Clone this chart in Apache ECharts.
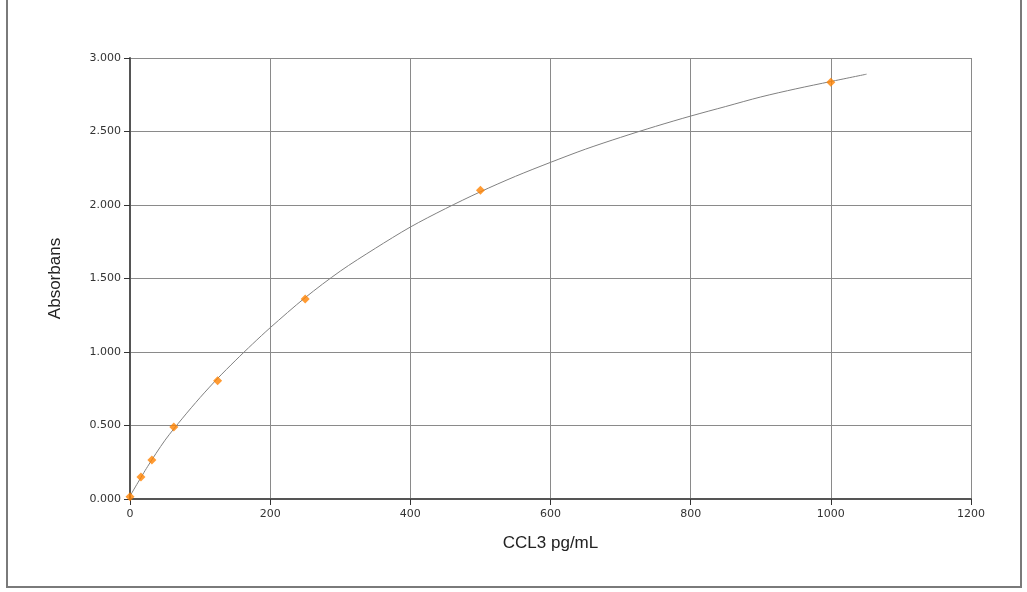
<!DOCTYPE html>
<html>
<head>
<meta charset="utf-8">
<title>CCL3 standard curve</title>
<script src="https://cdn.jsdelivr.net/npm/echarts@6/dist/echarts.min.js"></script>
<style>
  html, body { margin: 0; padding: 0; background: #fff; }
  #chart { width: 1027px; height: 592px; }
</style>
</head>
<body>
<div id="chart"></div>
<script>
// standards (pg/mL) and measured absorbance
const standardConc = [0, 15.6, 31.25, 62.5, 125, 250, 500, 1000]
const standardAbs = [0.016, 0.15, 0.265, 0.49, 0.805, 1.36, 2.10, 2.835]

// fitted curve at regular steps
const curveConc = [0, 25, 50, 75, 100, 125, 150, 175, 200, 250, 300, 350, 400, 450, 500,
  550, 600, 650, 700, 750, 800, 850, 900, 950, 1000, 1051]
const curveAbs = [0.02, 0.22, 0.40, 0.55, 0.69, 0.82, 0.94, 1.055, 1.165, 1.37, 1.55, 1.705, 1.85, 1.975, 2.09,
  2.195, 2.29, 2.38, 2.46, 2.535, 2.605, 2.67, 2.735, 2.79, 2.84, 2.89]

const xTicks = [0, 200, 400, 600, 800, 1000, 1200]
const yTicks = [0, 0.5, 1, 1.5, 2, 2.5, 3]

const chart = echarts.init(document.getElementById('chart'))

const tickFont = { color: '#333', fontSize: 11, fontFamily: 'DejaVu Sans' }

chart.setOption({
  animation: false,
  graphic: [{
    type: 'rect',
    shape: { x: 7, y: -10, width: 1014, height: 597 },
    style: { fill: 'none', stroke: '#7a7a7a', lineWidth: 2 },
    silent: true
  }],
  grid: {
    left: 130,
    right: 56,
    top: 58,
    bottom: 93
  },
  xAxis: {
    type: 'value',
    min: xTicks[0],
    max: xTicks[xTicks.length - 1],
    interval: 200,
    name: 'CCL3 pg/mL',
    nameLocation: 'middle',
    nameGap: 36,
    nameTextStyle: { color: '#222', fontSize: 17, fontFamily: 'Liberation Sans' },
    axisLine: { show: true, lineStyle: { color: '#555', width: 2 } },
    axisTick: { show: true, length: 6, lineStyle: { color: '#333' } },
    axisLabel: Object.assign({
      margin: 10,
      formatter: v => String(v)
    }, tickFont),
    splitLine: { show: true, lineStyle: { color: '#8a8a8a', width: 1 } }
  },
  yAxis: {
    type: 'value',
    min: yTicks[0],
    max: yTicks[yTicks.length - 1],
    interval: 0.5,
    name: 'Absorbans',
    nameLocation: 'middle',
    nameGap: 66,
    nameTextStyle: { color: '#222', fontSize: 17, fontFamily: 'Liberation Sans' },
    axisLine: { show: true, lineStyle: { color: '#555', width: 2 } },
    axisTick: { show: true, length: 6, lineStyle: { color: '#333' } },
    axisLabel: Object.assign({
      margin: 9,
      formatter: v => v.toFixed(3)
    }, tickFont),
    splitLine: { show: true, lineStyle: { color: '#8a8a8a', width: 1 } }
  },
  series: [
    {
      name: 'fit',
      type: 'line',
      data: curveConc.map((x, i) => [x, curveAbs[i]]),
      smooth: 0.3,
      symbol: 'none',
      lineStyle: { color: '#808080', width: 1 },
      z: 2
    },
    {
      name: 'standards',
      type: 'scatter',
      data: standardConc.map((x, i) => [x, standardAbs[i]]),
      symbol: 'diamond',
      symbolSize: 9,
      itemStyle: { color: '#ff8200' },
      z: 3
    }
  ]
})
</script>
</body>
</html>
